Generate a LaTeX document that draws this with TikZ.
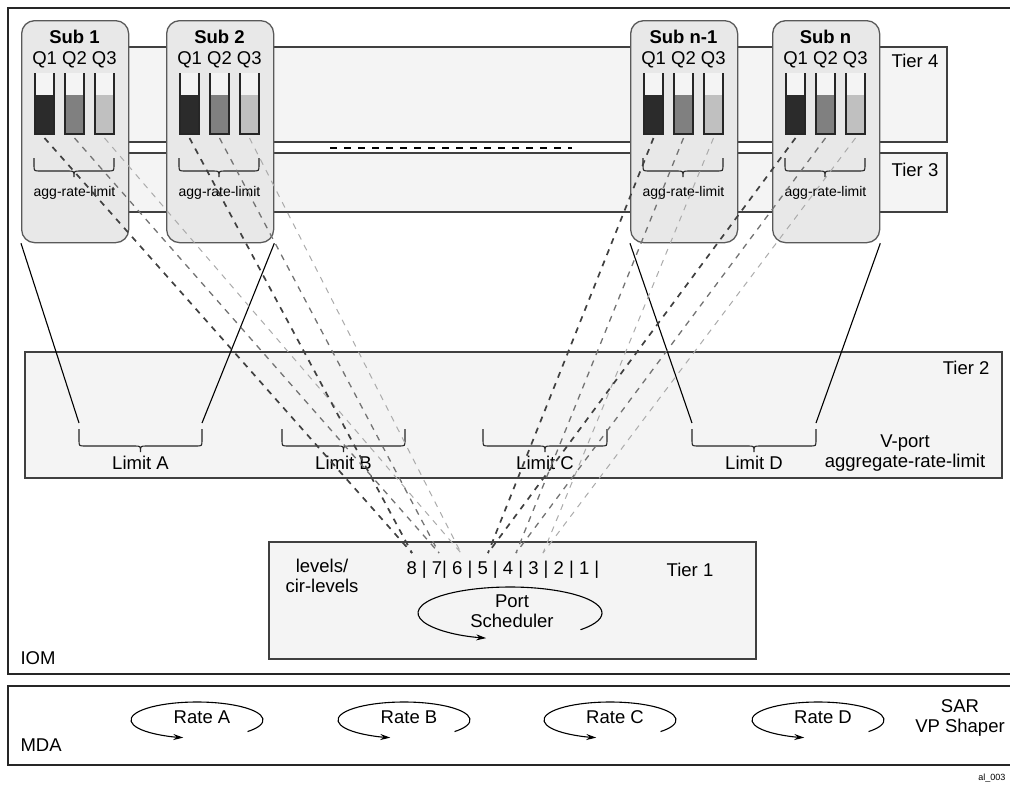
\documentclass[tikz,border=0pt]{standalone}
\usepackage{fontspec}
\setmainfont{Liberation Sans}
\usetikzlibrary{arrows.meta}
\definecolor{bandfill}{HTML}{F4F4F4}
\definecolor{subfill}{HTML}{E8E8E8}
\definecolor{qdark}{HTML}{2B2B2B}
\definecolor{qmid}{HTML}{808080}
\definecolor{qlight}{HTML}{C0C0C0}
\tikzset{
  band/.style={draw=black!75, fill=bandfill, line width=1.2pt},
  outerframe/.style={draw=black!85, line width=2.6pt},
  subbox/.style={draw=black!65, fill=subfill, line width=1.3pt, rounded corners=13pt,
    minimum width=107pt, minimum height=222pt, inner sep=0pt, anchor=north west},
  lbl/.style={font=\fontsize{18.5}{20}\selectfont, inner sep=0pt},
  smalllbl/.style={font=\fontsize{14}{16}\selectfont, inner sep=0pt},
  q1line/.style={draw=black!75, line width=1.7pt, dash pattern=on 6pt off 6pt},
  q2line/.style={draw=black!55, line width=1.3pt, dash pattern=on 6pt off 6pt},
  q3line/.style={draw=black!33, line width=1pt, dash pattern=on 6pt off 6pt},
}
% brace: x1, x2, top, horizontal
\newcommand{\limbrace}[4]{%
  \draw[line width=1.1pt, draw=black!85] (#1,#3) -- (#1,#4-6) .. controls (#1,#4) .. (#1+6,#4)
    -- ({(#1+#2)/2-6},#4) .. controls ({(#1+#2)/2},#4) .. ({(#1+#2)/2},#4+6)
    .. controls ({(#1+#2)/2},#4) .. ({(#1+#2)/2+6},#4)
    -- (#2-6,#4) .. controls (#2,#4) .. (#2,#4-6) -- (#2,#3);}
\begin{document}
\begin{tikzpicture}[x=1pt, y=-1pt, >={Stealth[length=10pt,width=6pt]}, line width=1.1pt]
\useasboundingbox (0,0) rectangle (1010,788);
% IOM
\draw[outerframe] (8,8) rectangle (1016,674);
\node[lbl, anchor=west] (iom) at (20,658) {IOM};
% tier 4 / tier 3
\draw[band] (40,47) rectangle (947,142);
\draw[band] (40,153) rectangle (947,212);
\node[lbl] (t4) at (915,61) {Tier 4};
\node[lbl] (t3) at (915,170) {Tier 3};
\draw[line width=1.2pt, dash pattern=on 7pt off 7pt] (330,148) -- (572,148);
% subscribers
\foreach \x/\name/\lab in {21/sub1/Sub 1, 166/sub2/Sub 2, 630/subm/Sub n-1, 772/subn/Sub n}{
  \node[subbox] (\name) at (\x,20) {};
  \node[lbl, font=\bfseries\fontsize{18.5}{20}\selectfont] (\name-t) at (\x+53.5,37) {\lab};
  \node[lbl] (\name-q) at (\x+53.5,60) {Q1 Q2 Q3};
  \foreach \o/\c [count=\i] in {14/qdark, 44/qmid, 74/qlight}{
    \fill[bandfill] (\x+\o,73) rectangle (\x+\o+19,134);
    \fill[\c] (\x+\o,95) rectangle (\x+\o+19,134);
    \draw[line width=1.4pt, draw=black!85] (\x+\o,73) -- (\x+\o,134) -- (\x+\o+19,134) -- (\x+\o+19,73);
    \coordinate (\name-q\i) at (\x+\o+9.5,138);
  }
  \limbrace{\x+13}{\x+93}{158}{171}
  \node[smalllbl] (\name-agg) at (\x+53.5,193) {agg-rate-limit};
}
% tier 2
\draw[band] (25,352) rectangle (1002,478);
\node[lbl, anchor=east] (t2) at (990,368) {Tier 2};
\foreach \a/\b/\n/\lab in {79/202/la/Limit A, 282/405/lb/Limit B, 483/607/lc/Limit C, 692/816/ld/Limit D}{
  \limbrace{\a}{\b}{429}{446}
  \node[lbl] (\n) at ({(\a+\b)/2},463) {\lab};
  \coordinate (\n w) at (\a,423);
  \coordinate (\n e) at (\b,423);
}
\node[lbl, align=center] (vport) at (905,453) {V-port\\aggregate-rate-limit};
\draw (sub1.south west) -- (law);
\draw (sub2.south east) -- (lae);
\draw (subm.south west) -- (ldw);
\draw (subn.south east) -- (lde);
% tier 1
\draw[band] (269,542) rectangle (756,659);
\node[lbl, align=center] (lev) at (322,576) {levels/\\cir-levels};
\node[lbl, anchor=west] (levnum) at (406,570) {8 | 7| 6 | 5 | 4 | 3 | 2 | 1 |};
\node[lbl] (t1) at (690,570) {Tier 1};
\foreach \n/\x in {8/412, 7/439, 6/461, 5/488, 4/516, 3/543}
  \coordinate (lv\n) at (\x,553);
\foreach \s in {sub1, sub2}{
  \draw[q1line] (\s-q1) -- (lv8);
  \draw[q2line] (\s-q2) -- (lv7);
  \draw[q3line] (\s-q3) -- (lv6);
}
\foreach \s in {subm, subn}{
  \draw[q1line] (\s-q1) -- (lv5);
  \draw[q2line] (\s-q2) -- (lv4);
  \draw[q3line] (\s-q3) -- (lv3);
}
\draw[->] (510,613) ++(40:92 and 26) arc[start angle=40, end angle=-255, x radius=92, y radius=26];
\node[lbl, align=center] (sched) at (512,611) {Port\\Scheduler};
% MDA
\draw[outerframe] (8,686) rectangle (1016,765);
\node[lbl, anchor=west] (mda) at (20,745) {MDA};
\foreach \x/\n/\lab in {197/ra/Rate A, 404/rb/Rate B, 610/rc/Rate C, 818/rd/Rate D}{
  \draw[->] (\x,720) ++(40:66 and 18) arc[start angle=40, end angle=-258, x radius=66, y radius=18];
  \node[lbl] (\n) at (\x+5,717) {\lab};
}
\node[lbl, align=center] (sar) at (960,718) {SAR\\VP Shaper};
\node[font=\fontsize{9}{10}\selectfont, anchor=east, inner sep=0pt] (fig) at (1006,778) {al\_003};
\end{tikzpicture}
\end{document}
